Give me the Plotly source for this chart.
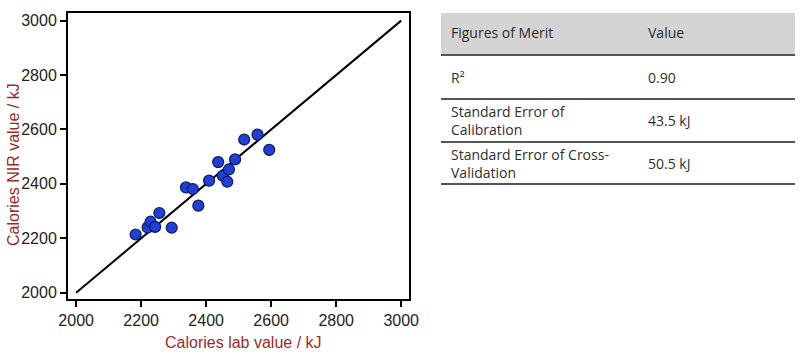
import plotly.graph_objects as go

# Data
lab_values = [2183, 2220, 2229, 2243, 2256, 2294, 2338, 2359, 2376, 2409,
              2437, 2451, 2470, 2465, 2489, 2517, 2558, 2594]
nir_values = [2214, 2240, 2261, 2242, 2293, 2239, 2387, 2381, 2320, 2412,
              2480, 2430, 2453, 2408, 2490, 2563, 2581, 2525]
ideal_line = [2000, 3000]
tick_vals = [2000, 2200, 2400, 2600, 2800, 3000]
x_title = "Calories lab value / kJ"
y_title = "Calories NIR value / kJ"

table_header = ["Figures of Merit", "Value"]
table_metrics = ["R²", "Standard Error of<br>Calibration", "Standard Error of Cross-<br>Validation"]
table_values = ["0.90", "43.5 kJ", "50.5 kJ"]

W, H = 800, 355
PL, PR, PT, PB = 68, 409, 13, 299  # plot area in pixels


def px(x):
    return (x - PL) / (PR - PL)


def py(y):
    return (PB - y) / (PB - PT)


fig = go.Figure()
fig.add_trace(go.Scatter(x=ideal_line, y=ideal_line, mode="lines",
                         line=dict(color="black", width=2), hoverinfo="skip"))
fig.add_trace(go.Scatter(x=lab_values, y=nir_values, mode="markers",
                         marker=dict(size=11, color="#1f3fd6",
                                     line=dict(color="#0d1a5c", width=1.2))))

axis_common = dict(showline=True, linecolor="black", linewidth=2, mirror=True,
                   ticks="outside", ticklen=6, tickwidth=2, tickcolor="black",
                   tickvals=tick_vals, showgrid=False, zeroline=False,
                   automargin=False,
                   tickfont=dict(family="Liberation Sans, Arial", size=16, color="#222"))

fig.update_xaxes(range=[1975, 3024], **axis_common)
fig.update_yaxes(range=[1977, 3028], **axis_common)

shapes = []
annotations = []
title_font = dict(family="Liberation Sans, Arial", size=16, color="#9a2a2a")
annotations.append(dict(x=px(243), y=py(343), xref="paper", yref="paper",
                        text=x_title, showarrow=False, xanchor="center",
                        yanchor="middle", font=title_font))
annotations.append(dict(x=px(13), y=py(165), xref="paper", yref="paper",
                        text=y_title, showarrow=False, xanchor="center",
                        yanchor="middle", textangle=-90, font=title_font))

TX0, TX1 = 441, 795
tfont = dict(family="Open Sans, Noto Sans", size=14, color="#2e2e2e")

# header background
shapes.append(dict(type="rect", xref="paper", yref="paper",
                   x0=px(TX0), x1=px(TX1), y0=py(55), y1=py(13),
                   fillcolor="#d4d4d4", line=dict(width=0), layer="below"))
# horizontal lines
for yl in [55, 99, 142, 184]:
    shapes.append(dict(type="line", xref="paper", yref="paper",
                       x0=px(TX0), x1=px(TX1), y0=py(yl), y1=py(yl),
                       line=dict(color="#555", width=2)))

col_x = [449, 646]
annotations.append(dict(x=px(col_x[0]), y=py(33), xref="paper", yref="paper",
                        text=table_header[0], showarrow=False, xanchor="left",
                        yanchor="middle", font=tfont))
annotations.append(dict(x=px(col_x[1]), y=py(33), xref="paper", yref="paper",
                        text=table_header[1], showarrow=False, xanchor="left",
                        yanchor="middle", font=tfont))
row_centers = [77, 120, 163]
for m, v, yc in zip(table_metrics, table_values, row_centers):
    annotations.append(dict(x=px(col_x[0]), y=py(yc), xref="paper", yref="paper",
                            text=m, showarrow=False, xanchor="left", yanchor="middle",
                            align="left", font=tfont))
    annotations.append(dict(x=px(col_x[1]), y=py(yc), xref="paper", yref="paper",
                            text=v, showarrow=False, xanchor="left", yanchor="middle",
                            font=tfont))

fig.update_layout(width=W, height=H, showlegend=False,
                  margin=dict(l=PL, r=W - PR, t=PT, b=H - PB),
                  plot_bgcolor="white", paper_bgcolor="white",
                  shapes=shapes, annotations=annotations)

fig.write_html("out.html", config={"displayModeBar": False},
               post_script="document.body.style.margin='0';document.body.style.overflow='hidden';")
